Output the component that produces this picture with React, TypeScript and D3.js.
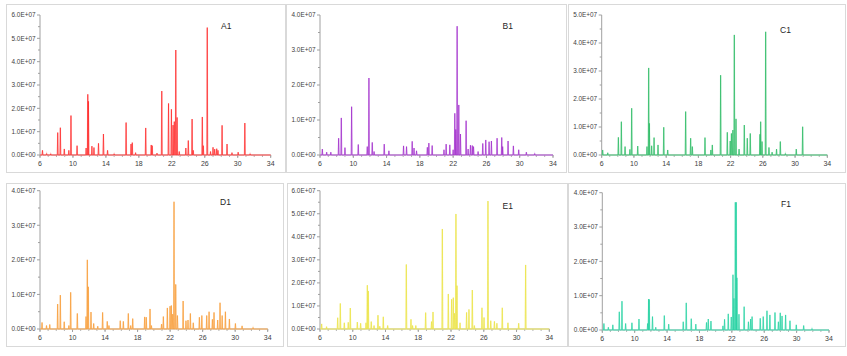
import React from "react";
import * as d3 from "d3";

// ---- data (retention time in min, intensity in 1e7 units) ----
const xTicks = [6, 10, 14, 18, 22, 26, 30, 34];

const aRt = [6.3, 6.8, 7.3, 8.15, 8.47, 8.95, 9.5, 9.76, 10.5, 11.6, 11.8, 11.88, 12.3, 12.55, 13.1, 13.7, 14.2, 15.0, 16.45, 17.05, 17.2, 17.6, 18.83, 19.5, 19.62, 20.2, 20.78, 21.6, 21.95, 22.15, 22.3, 22.48, 22.64, 22.9, 23.7, 24.0, 24.46, 24.6, 25.7, 25.82, 26.3, 26.7, 27.0, 27.2, 27.45, 27.6, 28.1, 28.7, 29.3, 30.05, 30.86, 31.5];
const aInt = [0.2, 0.06, 0.05, 0.96, 1.17, 0.26, 0.2, 1.69, 0.4, 0.3, 2.6, 2.3, 0.38, 0.32, 0.5, 0.9, 0.2, 0.05, 1.39, 0.47, 0.53, 0.1, 1.16, 0.43, 0.4, 0.08, 2.74, 2.21, 1.96, 1.28, 1.43, 4.5, 1.61, 0.15, 0.3, 0.62, 1.54, 0.2, 1.63, 0.4, 5.46, 0.15, 0.33, 0.25, 0.27, 0.2, 1.27, 0.47, 0.1, 0.12, 1.37, 0.05];

const bRt = [6.28, 6.8, 7.3, 8.24, 8.56, 9.0, 9.8, 10.6, 11.68, 11.88, 12.28, 12.5, 13.72, 14.28, 16.04, 16.4, 17.08, 17.3, 17.6, 18.9, 19.08, 19.48, 20.9, 21.16, 21.6, 22.0, 22.2, 22.32, 22.48, 22.68, 22.88, 23.56, 23.8, 24.08, 24.3, 24.45, 25.0, 25.56, 25.92, 26.32, 26.6, 27.28, 27.84, 27.95, 28.6, 29.24, 29.88, 30.8, 31.8];
const bInt = [0.17, 0.08, 0.08, 0.48, 1.06, 0.21, 1.38, 0.3, 0.24, 2.2, 0.36, 0.1, 0.31, 0.12, 0.26, 0.24, 0.39, 0.2, 0.12, 0.22, 0.34, 0.27, 0.15, 0.31, 0.29, 0.15, 1.19, 0.73, 3.68, 1.43, 0.6, 0.98, 0.17, 0.28, 0.27, 0.24, 0.1, 0.33, 0.43, 0.38, 0.4, 0.48, 0.5, 0.24, 0.4, 0.26, 0.15, 0.08, 0.04];

const cRt = [6.12, 6.75, 8.07, 8.44, 8.9, 9.5, 9.72, 10.47, 11.62, 11.83, 11.92, 12.2, 12.5, 12.99, 13.7, 14.19, 16.42, 17.04, 17.25, 18.82, 19.55, 19.73, 20.76, 21.59, 21.95, 22.1, 22.28, 22.46, 22.67, 23.05, 23.7, 24.07, 24.44, 25.64, 25.73, 25.9, 26.35, 26.76, 27.15, 27.7, 28.17, 28.8, 30.15, 30.94];
const cInt = [0.18, 0.08, 0.63, 1.19, 0.3, 0.2, 1.67, 0.32, 0.3, 3.11, 1.13, 0.33, 0.62, 0.36, 0.99, 0.18, 1.55, 0.6, 0.3, 0.62, 0.18, 0.36, 2.85, 0.81, 0.5, 0.77, 0.89, 4.29, 1.29, 0.21, 1.07, 0.6, 0.77, 0.74, 1.19, 0.48, 4.4, 0.27, 0.1, 0.21, 0.48, 0.05, 0.21, 1.01];

const dRt = [6.25, 6.8, 7.2, 8.17, 8.5, 8.98, 9.55, 9.77, 10.59, 11.66, 11.82, 11.94, 12.27, 12.6, 13.1, 13.7, 14.27, 14.48, 15.87, 16.25, 16.86, 17.15, 17.4, 18.87, 19.07, 19.53, 19.7, 20.95, 21.17, 21.66, 21.99, 22.15, 22.32, 22.48, 22.69, 22.9, 23.6, 23.95, 24.2, 24.49, 24.85, 25.6, 25.9, 26.5, 26.79, 27.2, 27.4, 27.85, 28.14, 28.4, 28.8, 29.29, 30.03, 30.85, 32.2];
const dInt = [0.19, 0.1, 0.13, 0.72, 0.98, 0.21, 0.1, 1.06, 0.45, 0.36, 2.0, 1.22, 0.49, 0.16, 0.08, 0.48, 0.22, 0.1, 0.24, 0.22, 0.45, 0.1, 0.3, 0.35, 0.34, 0.58, 0.1, 0.14, 0.36, 0.61, 0.66, 0.68, 0.43, 3.68, 1.29, 0.39, 0.81, 0.24, 0.26, 0.45, 0.18, 0.34, 0.39, 0.39, 0.5, 0.28, 0.48, 0.26, 0.76, 0.39, 0.5, 0.29, 0.16, 0.09, 0.04];

const eRt = [6.2, 6.8, 8.16, 8.48, 8.97, 9.45, 9.7, 10.56, 10.96, 11.62, 11.78, 11.9, 12.26, 12.6, 13.08, 13.3, 13.73, 14.26, 16.54, 17.11, 17.3, 17.7, 18.9, 19.62, 19.8, 20.94, 21.67, 22.07, 22.28, 22.42, 22.6, 22.73, 23.1, 23.9, 24.19, 24.6, 24.85, 25.78, 26.03, 26.51, 26.85, 27.3, 27.6, 28.26, 28.95, 30.26, 31.11];
const eInt = [0.22, 0.1, 0.49, 1.11, 0.27, 0.29, 0.91, 0.3, 0.25, 0.27, 1.9, 1.65, 0.32, 0.15, 0.6, 0.12, 0.53, 0.15, 2.8, 0.42, 0.15, 0.15, 0.71, 0.32, 0.74, 4.34, 1.52, 1.29, 1.36, 0.68, 4.99, 1.88, 0.27, 0.72, 0.85, 1.69, 0.15, 0.92, 0.5, 5.55, 0.36, 0.33, 0.25, 0.92, 0.27, 0.25, 2.78];

const fRt = [6.2, 6.75, 7.3, 8.1, 8.43, 8.88, 9.66, 10.53, 11.6, 11.72, 11.8, 12.2, 12.6, 13.66, 14.2, 16.0, 16.37, 16.99, 17.55, 18.87, 19.09, 19.42, 20.9, 21.1, 21.56, 21.93, 22.14, 22.26, 22.43, 22.55, 22.63, 22.88, 23.52, 24.05, 24.32, 24.5, 25.51, 25.88, 26.34, 26.7, 27.33, 27.75, 27.98, 28.2, 28.64, 29.18, 29.96, 30.87, 31.9];
const fInt = [0.19, 0.08, 0.15, 0.53, 0.84, 0.19, 0.21, 0.32, 0.19, 0.9, 0.89, 0.39, 0.08, 0.42, 0.17, 0.24, 0.79, 0.33, 0.17, 0.22, 0.32, 0.26, 0.12, 0.31, 0.47, 0.38, 1.61, 0.92, 3.72, 3.72, 1.52, 0.46, 0.68, 0.24, 0.32, 0.39, 0.34, 0.39, 0.56, 0.44, 0.51, 0.24, 0.5, 0.41, 0.44, 0.27, 0.15, 0.13, 0.04];

const panelNames = ["A1", "B1", "C1", "D1", "E1", "F1"];
const yMaxes = [6, 4, 5, 4, 6, 4];
const lineColors = ["#ff1f1f", "#9b1fc7", "#22b85c", "#f7982e", "#ebe23c", "#1bcf9d"];
const haloColors = ["#ffb0b0", "#e0b8f0", "#a8e4c0", "#fdd3a4", "#f7f2a8", "#a4eed8"];

const rts = [aRt, bRt, cRt, dRt, eRt, fRt];
const ints = [aInt, bInt, cInt, dInt, eInt, fInt];

// ---- layout ----
const frames = [
  { x: 6, y: 4, w: 279, h: 168 },
  { x: 286, y: 4, w: 280, h: 168 },
  { x: 568, y: 4, w: 277, h: 168 },
  { x: 6, y: 183, w: 277, h: 163 },
  { x: 287, y: 183, w: 280, h: 163 },
  { x: 568, y: 183, w: 277, h: 163 },
];
const plots = [
  { x0: 40, x1: 270.7, y0: 155, y1: 15, lx: 221, ly: 28.5 },
  { x0: 320, x1: 553, y0: 155, y1: 15, lx: 502.5, ly: 29 },
  { x0: 601.7, x1: 827.3, y0: 155, y1: 15, lx: 780, ly: 32.5 },
  { x0: 40, x1: 267.7, y0: 329, y1: 190.7, lx: 220, ly: 205 },
  { x0: 320, x1: 549.3, y0: 329, y1: 190.7, lx: 502.5, ly: 208.5 },
  { x0: 602.3, x1: 829, y0: 330, y1: 192.7, lx: 781, ly: 206.5 },
];

const FONT = "'Liberation Sans', Arial, sans-serif";
const AXIS = "#a0a0a0";

function fmtE(v: number) {
  if (v === 0) return "0.0E+00";
  return `${v.toFixed(1)}E+07`;
}

function Panel({ i }: { i: number }) {
  const p = plots[i];
  const f = frames[i];
  const x = d3.scaleLinear().domain([6, 34]).range([p.x0, p.x1]);
  const y = d3.scaleLinear().domain([0, yMaxes[i]]).range([p.y0, p.y1]);
  const w = 0.05;
  const pts: [number, number][] = [[6, 0]];
  const order = d3.range(rts[i].length).sort((a, b) => rts[i][a] - rts[i][b]);
  order.forEach((k) => {
    const t = rts[i][k];
    const h = ints[i][k];
    pts.push([t - w, 0], [t, h], [t + w, 0]);
  });
  pts.push([34, 0]);
  const line = d3.line<[number, number]>().x((d) => x(d[0])).y((d) => y(d[1]));
  const path = line(pts) || "";
  const area = d3.area<[number, number]>().x((d) => x(d[0])).y0(y(0)).y1((d) => y(d[1]));
  const areaPath = area(pts) || "";
  const yMajor = d3.range(0, yMaxes[i] + 0.001, 1);
  const yMinor = d3.range(0.5, yMaxes[i], 1);
  const xMinor = d3.range(6, 34.001, 1);
  return (
    <g>
      <rect x={f.x + 0.5} y={f.y + 0.5} width={f.w} height={f.h} fill="#fff" stroke="#d9d9d9" strokeWidth={1} />
      {/* y axis */}
      <line x1={p.x0} x2={p.x0} y1={p.y1} y2={p.y0} stroke={AXIS} strokeWidth={1} />
      {yMajor.map((v) => (
        <g key={"ym" + v}>
          <line x1={p.x0 - 3} x2={p.x0} y1={y(v)} y2={y(v)} stroke={AXIS} />
          <text x={p.x0 - 4.5} y={y(v) + 2.3} fontSize={6.4} fill="#404040" textAnchor="end" fontFamily={FONT}>
            {fmtE(v)}
          </text>
        </g>
      ))}
      {yMinor.map((v) => (
        <line key={"yn" + v} x1={p.x0 - 2} x2={p.x0} y1={y(v)} y2={y(v)} stroke={AXIS} />
      ))}
      {/* x axis */}
      <line x1={p.x0} x2={p.x1} y1={p.y0} y2={p.y0} stroke={AXIS} strokeWidth={1} />
      {xMinor.map((v) => (
        <line key={"xn" + v} x1={x(v)} x2={x(v)} y1={p.y0} y2={p.y0 + 2} stroke={AXIS} strokeWidth={0.8} />
      ))}
      {xTicks.map((v) => (
        <g key={"xt" + v}>
          <line x1={x(v)} x2={x(v)} y1={p.y0} y2={p.y0 + 3} stroke={AXIS} />
          <text x={x(v)} y={p.y0 + 11} fontSize={7} fill="#404040" textAnchor="middle" fontFamily={FONT}>
            {v}
          </text>
        </g>
      ))}
      {/* series */}
      <path d={areaPath} fill={haloColors[i]} fillOpacity={0.5} stroke={haloColors[i]} strokeWidth={1.4} strokeOpacity={0.6} />
      <path d={path} fill="none" stroke={lineColors[i]} strokeWidth={0.7} strokeOpacity={0.9} strokeLinejoin="round" />
      <text x={p.lx} y={p.ly} fontSize={8.5} fill="#262626" fontFamily={FONT}>
        {panelNames[i]}
      </text>
    </g>
  );
}

export default function App() {
  return (
    <svg
      width={847}
      height={356}
      style={{ position: "absolute", left: 0, top: 0, background: "#fff" }}
    >
      <rect width={847} height={356} fill="#fff" />
      {panelNames.map((_, i) => (
        <Panel key={i} i={i} />
      ))}
    </svg>
  );
}
